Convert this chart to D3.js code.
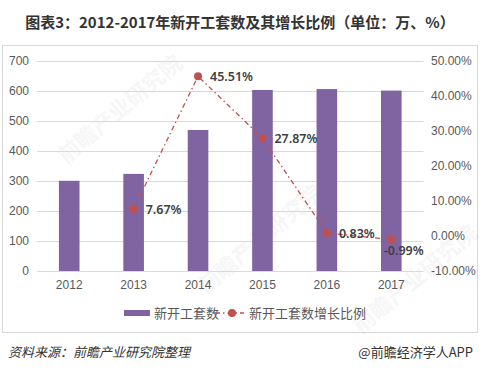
<!DOCTYPE html>
<html>
<head>
<meta charset="utf-8">
<script src="https://cdn.jsdelivr.net/npm/d3@7"></script>
<style>
  body { margin: 0; background: #fff; }
  text { font-family: "Noto Sans CJK SC", "Noto Sans", sans-serif; }
</style>
</head>
<body>
<svg id="chart" width="482" height="374"></svg>
<script>
// data
let years = ["2012", "2013", "2014", "2015", "2016", "2017"];
let starts = [300, 323, 469, 602, 605, 600];             // 新开工套数 (万)
let growthYears = ["2013", "2014", "2015", "2016", "2017"];
let growth = [7.67, 45.51, 27.87, 0.83, -0.99];          // 增长比例 (%)
let leftTicks = [0, 100, 200, 300, 400, 500, 600, 700];
let rightTicks = [-10, 0, 10, 20, 30, 40, 50];

let barColor = "#8064a2";
let lineColor = "#c0504d";

var svg = d3.select("#chart");

// title
svg.append("text")
  .attr("x", 240)
  .attr("y", 28)
  .attr("text-anchor", "middle")
  .style("font-size", "15px")
  .style("font-weight", "bold")
  .attr("fill", "#333")
  .text("图表3：2012-2017年新开工套数及其增长比例（单位：万、%）");

// chart frame
svg.append("rect")
  .attr("x", 2.5).attr("y", 45.5)
  .attr("width", 475).attr("height", 287)
  .style("fill", "none")
  .style("stroke", "#d9d9d9");

// faint watermark
[[125, 115], [265, 245], [420, 285]].forEach(p => {
  svg.append("text")
    .attr("transform", "translate(" + p[0] + "," + p[1] + ") rotate(-40)")
    .attr("text-anchor", "middle")
    .style("font-size", "22px")
    .style("font-weight", "bold")
    .attr("fill", "#000")
    .style("opacity", 0.03)
    .text("前瞻产业研究院");
});

var x = d3.scaleBand().domain(years).range([37, 423.5]).paddingInner(0.68).paddingOuter(0.34);
var yL = d3.scaleLinear().domain([0, 700]).range([271, 60.5]);
var yR = d3.scaleLinear().domain([-10, 50]).range([271, 60.5]);

// gridlines
svg.append("g")
  .selectAll("line")
  .data(leftTicks)
  .enter().append("line")
  .attr("x1", 37).attr("x2", 423.5)
  .attr("y1", d => Math.round(yL(d)) + 0.5)
  .attr("y2", d => Math.round(yL(d)) + 0.5)
  .style("stroke", "#d9d9d9");

// left axis
var axL = svg.append("g")
  .attr("transform", "translate(29,0)")
  .call(d3.axisLeft(yL).tickValues(leftTicks).tickSize(0).tickPadding(0));
axL.select(".domain").remove();
axL.selectAll("text").style("font-size", "12px").attr("fill", "#595959")
  .style("font-family", "'Liberation Sans', sans-serif");

// right axis
var axR = svg.append("g")
  .attr("transform", "translate(431,0)")
  .call(d3.axisRight(yR).tickValues(rightTicks).tickSize(0).tickPadding(0)
    .tickFormat(d => d.toFixed(2) + "%"));
axR.select(".domain").remove();
axR.selectAll("text").style("font-size", "12px").attr("fill", "#595959")
  .style("font-family", "'Liberation Sans', sans-serif");

// x axis
var axX = svg.append("g")
  .attr("transform", "translate(0,280)")
  .call(d3.axisBottom(x).tickSize(0).tickPadding(0));
axX.select(".domain").remove();
axX.selectAll("text").style("font-size", "12px").attr("fill", "#595959")
  .style("font-family", "'Liberation Sans', sans-serif");

// bars
svg.append("g")
  .selectAll("rect")
  .data(starts)
  .enter().append("rect")
  .attr("x", (d, i) => x(years[i]))
  .attr("width", x.bandwidth())
  .attr("y", d => yL(d))
  .attr("height", d => yL(0) - yL(d))
  .style("fill", barColor);

// growth line
var line = d3.line()
  .x((d, i) => x(growthYears[i]) + x.bandwidth() / 2)
  .y(d => yR(d));

svg.append("path")
  .attr("d", line(growth))
  .style("fill", "none")
  .style("stroke", lineColor)
  .style("stroke-width", 1.3)
  .style("stroke-dasharray", "5,3,1.5,3");

svg.append("g")
  .selectAll("circle")
  .data(growth)
  .enter().append("circle")
  .attr("cx", (d, i) => x(growthYears[i]) + x.bandwidth() / 2)
  .attr("cy", d => yR(d))
  .attr("r", 4)
  .style("fill", lineColor);

// point labels
svg.append("g")
  .selectAll("text")
  .data(growth)
  .enter().append("text")
  .attr("x", (d, i) => x(growthYears[i]) + x.bandwidth() / 2 + (d < 0 ? -7.5 : 12))
  .attr("y", d => yR(d) + (d < 0 ? 15.5 : 4.5))
  .style("font-size", "12.5px")
  .style("font-weight", "600")
  .style("font-family", "'Noto Sans', sans-serif")
  .attr("fill", "#404040")
  .text(d => d.toFixed(2) + "%");

// legend
var legend = svg.append("g").attr("transform", "translate(0,313)");
legend.append("rect")
  .attr("x", 124).attr("y", -3).attr("width", 26).attr("height", 6)
  .style("fill", barColor);
legend.append("text")
  .attr("x", 154).attr("y", 5)
  .style("font-size", "13px").attr("fill", "#595959")
  .text("新开工套数");
legend.append("line")
  .attr("x1", 215).attr("x2", 244).attr("y1", 0).attr("y2", 0)
  .style("stroke", lineColor).style("stroke-width", 1.3)
  .style("stroke-dasharray", "5,3,1.5,3");
legend.append("circle")
  .attr("cx", 232).attr("cy", 0).attr("r", 4)
  .style("fill", lineColor);
legend.append("text")
  .attr("x", 249).attr("y", 5)
  .style("font-size", "13px").attr("fill", "#595959")
  .text("新开工套数增长比例");

// source lines
svg.append("text")
  .attr("x", 8).attr("y", 357)
  .style("font-size", "13px").style("font-style", "italic")
  .attr("fill", "#333")
  .text("资料来源：前瞻产业研究院整理");
svg.append("text")
  .attr("x", 473).attr("y", 357)
  .attr("text-anchor", "end")
  .style("font-size", "13px")
  .attr("fill", "#333")
  .text("@前瞻经济学人APP");
</script>
</body>
</html>
